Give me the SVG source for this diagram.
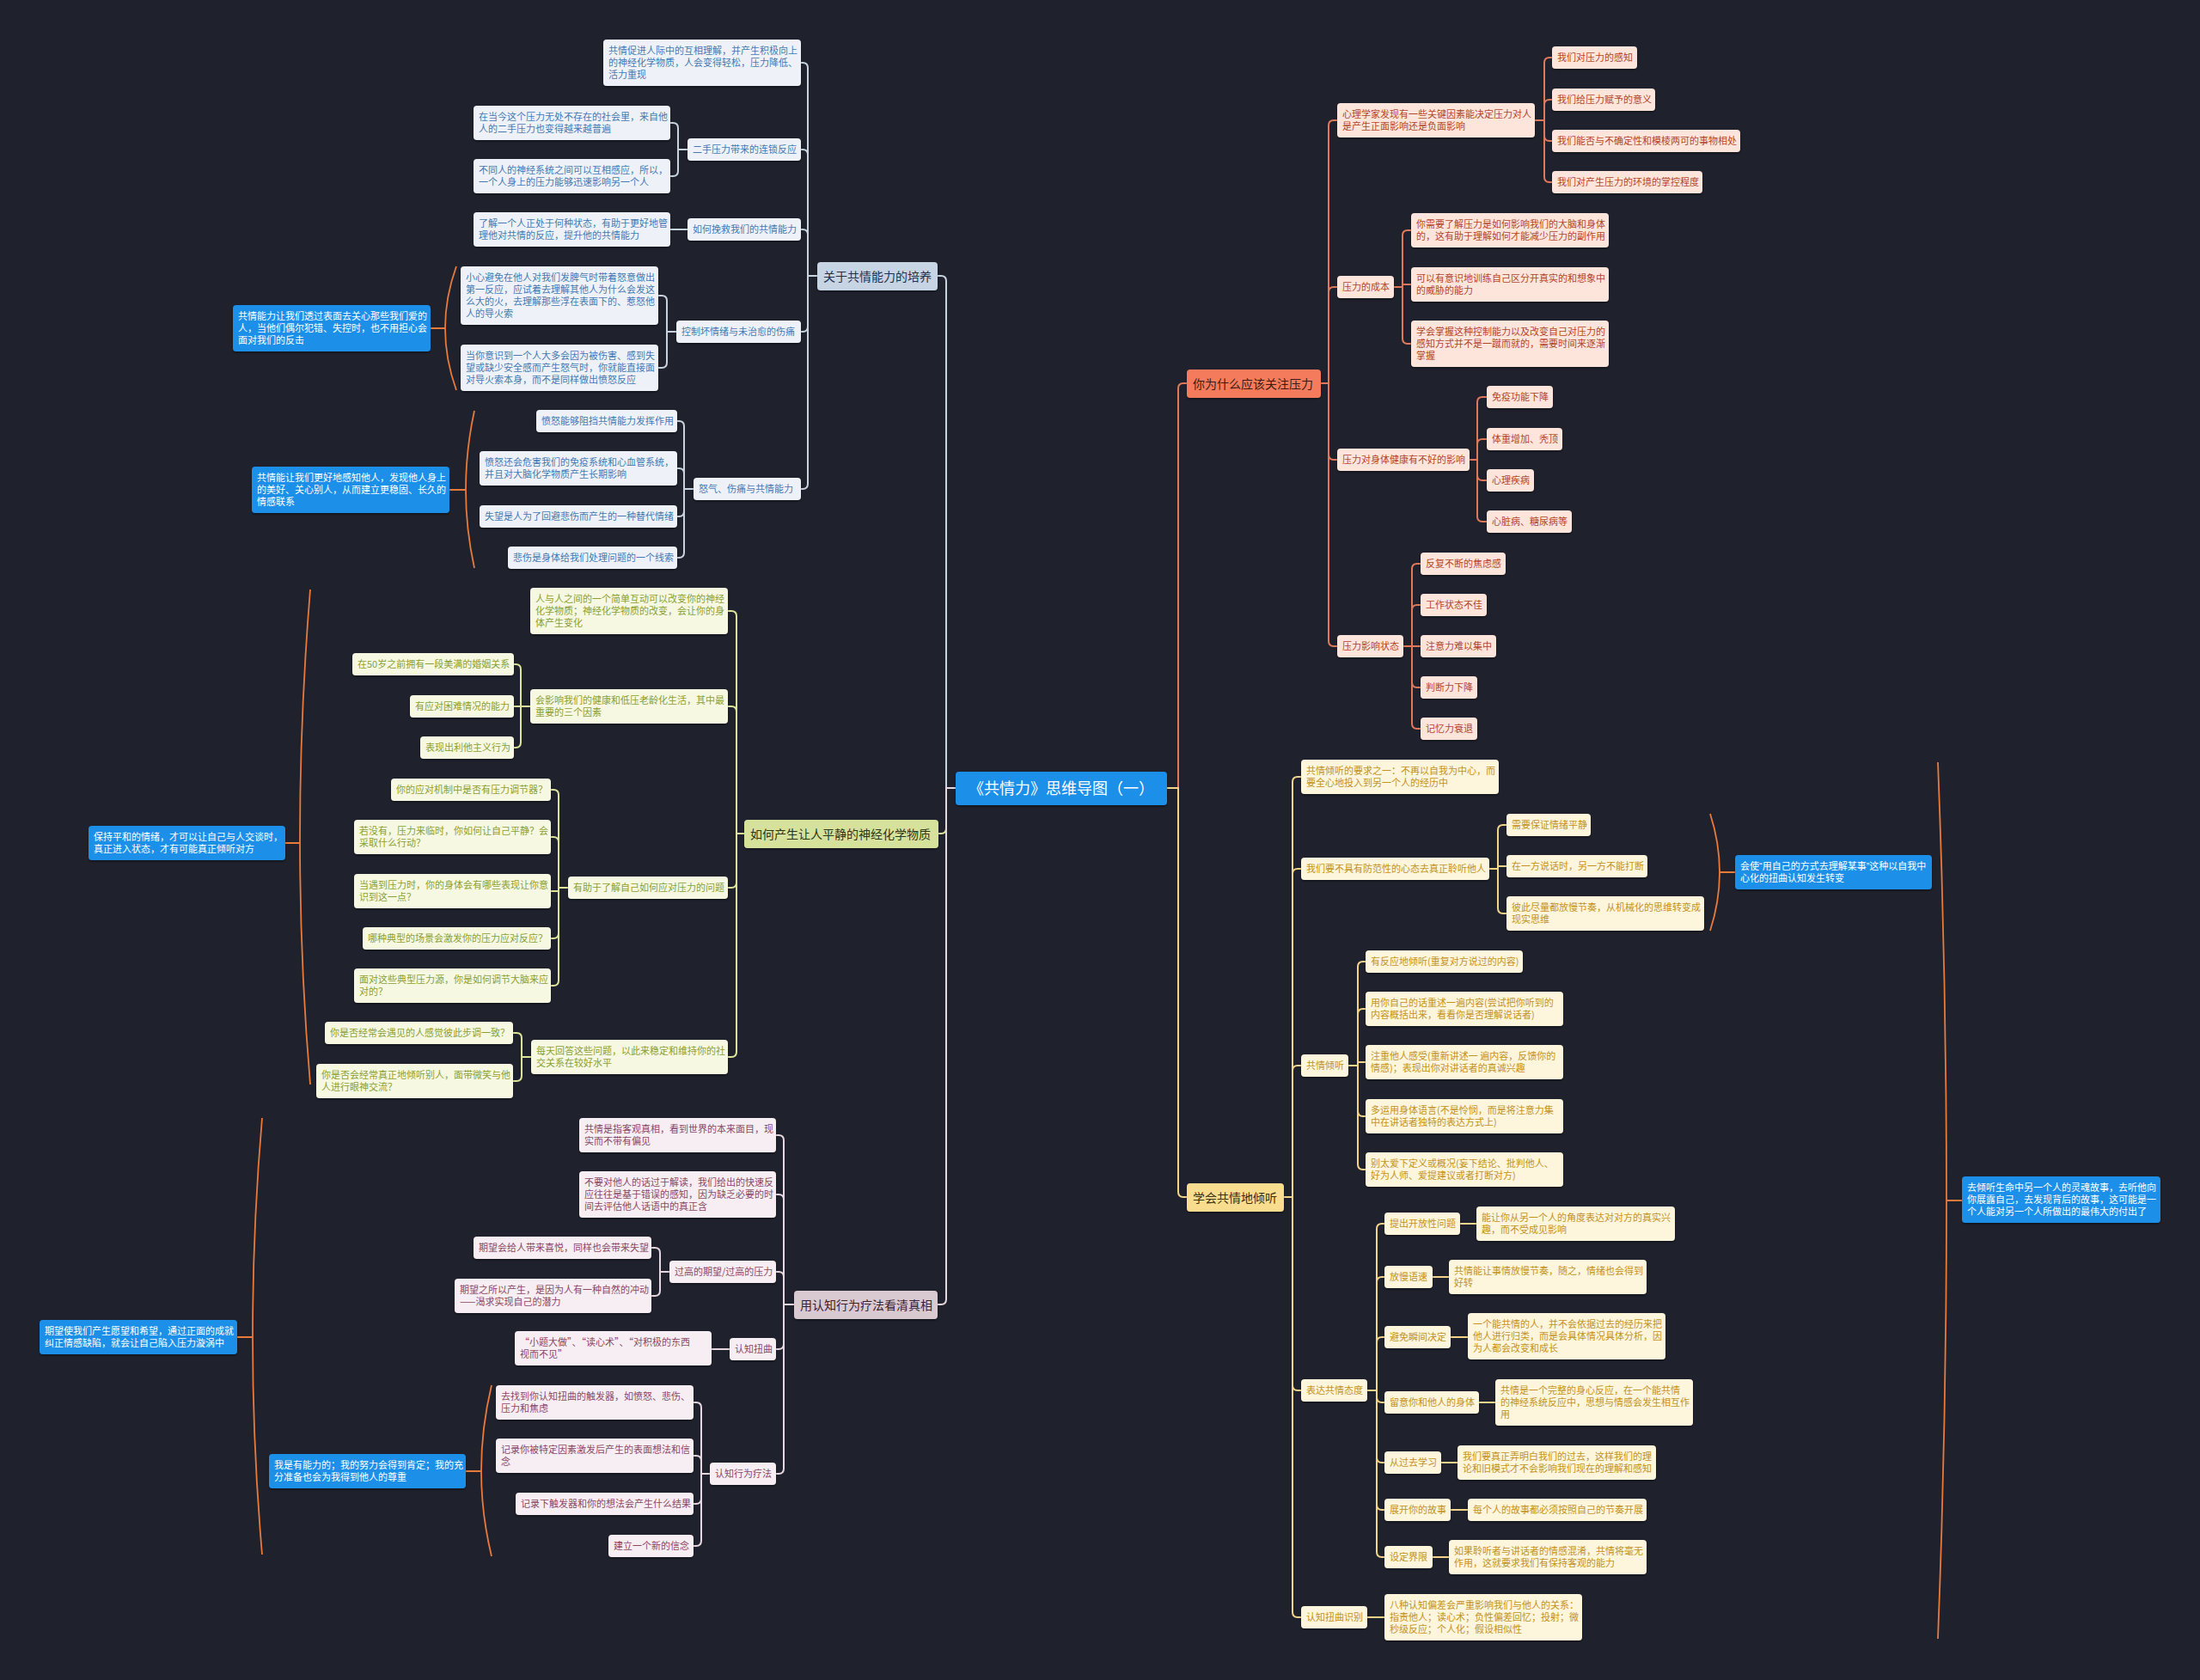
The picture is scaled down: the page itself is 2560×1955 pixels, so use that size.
<svg xmlns="http://www.w3.org/2000/svg" width="2560" height="1955" viewBox="0 0 2560 1955">
<defs>
<filter id="sh" x="-10%" y="-20%" width="120%" height="150%"><feDropShadow dx="0" dy="1.5" stdDeviation="1.2" flood-color="#000" flood-opacity="0.45"/></filter>
<style>
text{font-family:"Noto Sans CJK SC","Noto Sans","Liberation Sans",sans-serif;font-size:11px}
rect.n,g rect{rx:4px;filter:url(#sh)}
.q{font-family:"Liberation Sans",sans-serif}
.r rect{fill:#fde5db}.r text{fill:#b3452b}
.y rect{fill:#fdf5dc}.y text{fill:#c39322}
.g rect{fill:#eef2f8}.g text{fill:#4479b3}
.v rect{fill:#f6f8e2}.v text{fill:#8ba033}
.p rect{fill:#f6eef2}.p text{fill:#8b4866}
.s rect{fill:#1b8fe8}.s text{fill:#ffffff}
.m text{font-size:14px}
.mr rect{fill:#f47b5b}.mr text{fill:#3d1a10}
.my rect{fill:#f8dd8e}.my text{fill:#3a2e10}
.mg rect{fill:#c7d4e4}.mg text{fill:#22304a}
.mv rect{fill:#d6e29c}.mv text{fill:#2c3410}
.mp rect{fill:#d9c9d1}.mp text{fill:#3a2230}
.c rect{fill:#1b8fe8}.c text{fill:#fff;font-size:18px}
#connectors path{fill:none;stroke-width:2}
.cr{stroke:#e0795c}.cy{stroke:#f2d58a}.cg{stroke:#c9d3e0}.cv{stroke:#dde59a}.cp{stroke:#e6d6de}
#connectors .cb{stroke:#e87a3c;stroke-width:1.8}
</style>
</defs>
<rect x="0" y="0" width="2560" height="1955" fill="#1f222d"/>
<g id="connectors">
<path class="cr" d="M1358,917H1371V452Q1371,446 1377,446H1381"/>
<path class="cr" d="M1537,446H1546V146Q1546,140 1552,140H1556"/>
<path class="cr" d="M1537,446H1546V340Q1546,334 1552,334H1556"/>
<path class="cr" d="M1537,446H1546V529Q1546,535 1552,535H1556"/>
<path class="cr" d="M1537,446H1546V746Q1546,752 1552,752H1556"/>
<path class="cr" d="M1786,140H1797V73Q1797,67 1803,67H1806"/>
<path class="cr" d="M1786,140H1797V122Q1797,116 1803,116H1806"/>
<path class="cr" d="M1786,140H1797V158Q1797,164 1803,164H1806"/>
<path class="cr" d="M1786,140H1797V206Q1797,212 1803,212H1806"/>
<path class="cr" d="M1622,334H1632V274Q1632,268 1638,268H1642"/>
<path class="cr" d="M1622,334H1632V331H1642"/>
<path class="cr" d="M1622,334H1632V394Q1632,400 1638,400H1642"/>
<path class="cr" d="M1710,535H1719V468Q1719,462 1725,462H1730"/>
<path class="cr" d="M1710,535H1719V517Q1719,511 1725,511H1730"/>
<path class="cr" d="M1710,535H1719V553Q1719,559 1725,559H1730"/>
<path class="cr" d="M1710,535H1719V601Q1719,607 1725,607H1730"/>
<path class="cr" d="M1633,752H1643V662Q1643,656 1649,656H1653"/>
<path class="cr" d="M1633,752H1643V710Q1643,704 1649,704H1653"/>
<path class="cr" d="M1633,752H1653"/>
<path class="cr" d="M1633,752H1643V794Q1643,800 1649,800H1653"/>
<path class="cr" d="M1633,752H1643V842Q1643,848 1649,848H1653"/>
<path class="cy" d="M1358,917H1371V1387Q1371,1393 1377,1393H1381"/>
<path class="cy" d="M1494,1393H1504V910Q1504,904 1510,904H1514"/>
<path class="cy" d="M1494,1393H1504V1017Q1504,1011 1510,1011H1514"/>
<path class="cy" d="M1494,1393H1504V1246Q1504,1240 1510,1240H1514"/>
<path class="cy" d="M1494,1393H1504V1612Q1504,1618 1510,1618H1514"/>
<path class="cy" d="M1494,1393H1504V1876Q1504,1882 1510,1882H1514"/>
<path class="cy" d="M1733,1011H1743V966Q1743,960 1749,960H1753"/>
<path class="cy" d="M1733,1011H1743V1008H1753"/>
<path class="cy" d="M1733,1011H1743V1057Q1743,1063 1749,1063H1753"/>
<path class="cy" d="M1569,1240H1580V1125Q1580,1119 1586,1119H1589"/>
<path class="cy" d="M1569,1240H1580V1180Q1580,1174 1586,1174H1589"/>
<path class="cy" d="M1569,1240H1580V1236H1589"/>
<path class="cy" d="M1569,1240H1580V1293Q1580,1299 1586,1299H1589"/>
<path class="cy" d="M1569,1240H1580V1355Q1580,1361 1586,1361H1589"/>
<path class="cy" d="M1591,1618H1602V1430Q1602,1424 1608,1424H1611"/>
<path class="cy" d="M1591,1618H1602V1492Q1602,1486 1608,1486H1611"/>
<path class="cy" d="M1591,1618H1602V1562Q1602,1556 1608,1556H1611"/>
<path class="cy" d="M1591,1618H1602V1626Q1602,1632 1608,1632H1611"/>
<path class="cy" d="M1591,1618H1602V1696Q1602,1702 1608,1702H1611"/>
<path class="cy" d="M1591,1618H1602V1751Q1602,1757 1608,1757H1611"/>
<path class="cy" d="M1591,1618H1602V1806Q1602,1812 1608,1812H1611"/>
<path class="cy" d="M1699,1424H1718M1667,1486H1686M1688,1556H1708M1721,1632H1740M1677,1702H1696M1688,1757H1708M1667,1812H1686M1591,1882H1611"/>
<path class="cg" d="M1112,917H1101V327Q1101,321 1095,321H1091"/>
<path class="cg" d="M951,321H940V79Q940,73 934,73H932"/>
<path class="cg" d="M951,321H940V180Q940,174 934,174H932"/>
<path class="cg" d="M951,321H940V273Q940,267 934,267H932"/>
<path class="cg" d="M951,321H940V380Q940,386 934,386H932"/>
<path class="cg" d="M951,321H940V563Q940,569 934,569H932"/>
<path class="cg" d="M800,174H789V149Q789,143 783,143H780"/>
<path class="cg" d="M800,174H789V199Q789,205 783,205H780"/>
<path class="cg" d="M800,267H780"/>
<path class="cg" d="M787,386H776V350Q776,344 770,344H766"/>
<path class="cg" d="M787,386H776V422Q776,428 770,428H766"/>
<path class="cg" d="M807,569H796V496Q796,490 790,490H788"/>
<path class="cg" d="M807,569H796V551Q796,545 790,545H788"/>
<path class="cg" d="M807,569H796V595Q796,601 790,601H788"/>
<path class="cg" d="M807,569H796V643Q796,649 790,649H788"/>
<path class="cv" d="M1112,917H1101V964Q1101,970 1095,970H1092"/>
<path class="cv" d="M866,970H857V717Q857,711 851,711H847"/>
<path class="cv" d="M866,970H857V828Q857,822 851,822H847"/>
<path class="cv" d="M866,970H857V1027Q857,1033 851,1033H847"/>
<path class="cv" d="M866,970H857V1224Q857,1230 851,1230H847"/>
<path class="cv" d="M617,822H606V779Q606,773 600,773H598"/>
<path class="cv" d="M617,822H598"/>
<path class="cv" d="M617,822H606V864Q606,870 600,870H598"/>
<path class="cv" d="M661,1033H650V925Q650,919 644,919H641"/>
<path class="cv" d="M661,1033H650V980Q650,974 644,974H641"/>
<path class="cv" d="M661,1033H650V1037H641"/>
<path class="cv" d="M661,1033H650V1086Q650,1092 644,1092H641"/>
<path class="cv" d="M661,1033H650V1141Q650,1147 644,1147H641"/>
<path class="cv" d="M618,1230H607V1208Q607,1202 601,1202H597"/>
<path class="cv" d="M618,1230H607V1252Q607,1258 601,1258H597"/>
<path class="cp" d="M1112,917H1101V1512Q1101,1518 1095,1518H1091"/>
<path class="cp" d="M924,1518H912V1327Q912,1321 906,1321H903"/>
<path class="cp" d="M924,1518H912V1396Q912,1390 906,1390H903"/>
<path class="cp" d="M924,1518H912V1486Q912,1480 906,1480H903"/>
<path class="cp" d="M924,1518H912V1564Q912,1570 906,1570H903"/>
<path class="cp" d="M924,1518H912V1709Q912,1715 906,1715H903"/>
<path class="cp" d="M779,1480H768V1458Q768,1452 762,1452H758"/>
<path class="cp" d="M779,1480H768V1502Q768,1508 762,1508H758"/>
<path class="cp" d="M849,1570H828"/>
<path class="cp" d="M826,1715H816V1638Q816,1632 810,1632H807"/>
<path class="cp" d="M826,1715H816V1700Q816,1694 810,1694H807"/>
<path class="cp" d="M826,1715H816V1744Q816,1750 810,1750H807"/>
<path class="cp" d="M826,1715H816V1793Q816,1799 810,1799H807"/>
<path class="cb" d="M531,310Q505,382 531,454M501,382H518"/>
<path class="cb" d="M552,478Q532,570 552,661M523,570H542"/>
<path class="cb" d="M361,686Q337,979 361,1262M332,981H349"/>
<path class="cb" d="M572,1612Q548,1712 572,1811M542,1712H560"/>
<path class="cb" d="M305,1301Q283,1556 305,1809M276,1556H294"/>
<path class="cb" d="M1990,947Q2012,1015 1990,1083M2001,1015H2019"/>
<path class="cb" d="M2255,887Q2275,1397 2255,1907M2265,1397H2283"/>
</g>
<g id="center" class="c"><rect x="1112" y="898" width="246" height="39"/><text x="1235" y="924" text-anchor="middle">《共情力》思维导图（一）</text></g>
<g id="b1" class="m mr"><rect x="1381" y="430" width="156" height="33"/><text x="1388" y="452">你为什么应该关注压力</text></g>
<g id="r1" class="r"><rect x="1556" y="120" width="230" height="40"/><text x="1562" y="137">心理学家发现有一些关键因素能决定压力对人<tspan x="1562" dy="14">是产生正面影响还是负面影响</tspan></text></g>
<g id="r1a" class="r"><rect x="1806" y="54" width="99" height="26"/><text x="1812" y="71">我们对压力的感知</text></g>
<g id="r1b" class="r"><rect x="1806" y="103" width="120" height="26"/><text x="1812" y="120">我们给压力赋予的意义</text></g>
<g id="r1c" class="r"><rect x="1806" y="151" width="219" height="26"/><text x="1812" y="168">我们能否与不确定性和模棱两可的事物相处</text></g>
<g id="r1d" class="r"><rect x="1806" y="199" width="175" height="26"/><text x="1812" y="216">我们对产生压力的环境的掌控程度</text></g>
<g id="r2" class="r"><rect x="1556" y="321" width="66" height="26"/><text x="1562" y="338">压力的成本</text></g>
<g id="r2a" class="r"><rect x="1642" y="248" width="230" height="40"/><text x="1648" y="265">你需要了解压力是如何影响我们的大脑和身体<tspan x="1648" dy="14">的，这有助于理解如何才能减少压力的副作用</tspan></text></g>
<g id="r2b" class="r"><rect x="1642" y="311" width="230" height="40"/><text x="1648" y="328">可以有意识地训练自己区分开真实的和想象中<tspan x="1648" dy="14">的威胁的能力</tspan></text></g>
<g id="r2c" class="r"><rect x="1642" y="373" width="230" height="54"/><text x="1648" y="390">学会掌握这种控制能力以及改变自己对压力的<tspan x="1648" dy="14">感知方式并不是一蹴而就的，需要时间来逐渐</tspan><tspan x="1648" dy="14">掌握</tspan></text></g>
<g id="r3" class="r"><rect x="1556" y="522" width="154" height="26"/><text x="1562" y="539">压力对身体健康有不好的影响</text></g>
<g id="r3a" class="r"><rect x="1730" y="449" width="77" height="26"/><text x="1736" y="466">免疫功能下降</text></g>
<g id="r3b" class="r"><rect x="1730" y="498" width="88" height="26"/><text x="1736" y="515">体重增加、秃顶</text></g>
<g id="r3c" class="r"><rect x="1730" y="546" width="55" height="26"/><text x="1736" y="563">心理疾病</text></g>
<g id="r3d" class="r"><rect x="1730" y="594" width="99" height="26"/><text x="1736" y="611">心脏病、糖尿病等</text></g>
<g id="r4" class="r"><rect x="1556" y="739" width="77" height="26"/><text x="1562" y="756">压力影响状态</text></g>
<g id="r4a" class="r"><rect x="1653" y="643" width="99" height="26"/><text x="1659" y="660">反复不断的焦虑感</text></g>
<g id="r4b" class="r"><rect x="1653" y="691" width="77" height="26"/><text x="1659" y="708">工作状态不佳</text></g>
<g id="r4c" class="r"><rect x="1653" y="739" width="88" height="26"/><text x="1659" y="756">注意力难以集中</text></g>
<g id="r4d" class="r"><rect x="1653" y="787" width="66" height="26"/><text x="1659" y="804">判断力下降</text></g>
<g id="r4e" class="r"><rect x="1653" y="835" width="66" height="26"/><text x="1659" y="852">记忆力衰退</text></g>
<g id="b2" class="m my"><rect x="1381" y="1377" width="113" height="33"/><text x="1388" y="1399">学会共情地倾听</text></g>
<g id="y1" class="y"><rect x="1514" y="884" width="230" height="40"/><text x="1520" y="901">共情倾听的要求之一：不再以自我为中心，而<tspan x="1520" dy="14">要全心地投入到另一个人的经历中</tspan></text></g>
<g id="y2" class="y"><rect x="1514" y="998" width="219" height="26"/><text x="1520" y="1015">我们要不具有防范性的心态去真正聆听他人</text></g>
<g id="y2a" class="y"><rect x="1753" y="947" width="98" height="26"/><text x="1759" y="964">需要保证情绪平静</text></g>
<g id="y2b" class="y"><rect x="1753" y="995" width="164" height="26"/><text x="1759" y="1012">在一方说话时，另一方不能打断</text></g>
<g id="y2c" class="y"><rect x="1753" y="1043" width="230" height="40"/><text x="1759" y="1060">彼此尽量都放慢节奏，从机械化的思维转变成<tspan x="1759" dy="14">现实思维</tspan></text></g>
<g id="s_y2" class="s"><rect x="2019" y="995" width="229" height="40"/><text x="2025" y="1012">会使<tspan class="q">“</tspan>用自己的方式去理解某事<tspan class="q">”</tspan>这种以自我中<tspan x="2025" dy="14">心化的扭曲认知发生转变</tspan></text></g>
<g id="y3" class="y"><rect x="1514" y="1227" width="55" height="26"/><text x="1520" y="1244">共情倾听</text></g>
<g id="y3a" class="y"><rect x="1589" y="1106" width="183" height="26"/><text x="1595" y="1123">有反应地倾听(重复对方说过的内容)</text></g>
<g id="y3b" class="y"><rect x="1589" y="1154" width="230" height="40"/><text x="1595" y="1171">用你自己的话重述一遍内容(尝试把你听到的<tspan x="1595" dy="14">内容概括出来，看看你是否理解说话者)</tspan></text></g>
<g id="y3c" class="y"><rect x="1589" y="1216" width="230" height="40"/><text x="1595" y="1233">注重他人感受(重新讲述一 遍内容，反馈你的<tspan x="1595" dy="14">情感)；表现出你对讲话者的真诚兴趣</tspan></text></g>
<g id="y3d" class="y"><rect x="1589" y="1279" width="230" height="40"/><text x="1595" y="1296">多运用身体语言(不是怜悯，而是将注意力集<tspan x="1595" dy="14">中在讲话者独特的表达方式上)</tspan></text></g>
<g id="y3e" class="y"><rect x="1589" y="1341" width="230" height="40"/><text x="1595" y="1358">别太爱下定义或概况(妄下结论、批判他人、<tspan x="1595" dy="14">好为人师、爱提建议或者打断对方)</tspan></text></g>
<g id="y4" class="y"><rect x="1514" y="1605" width="77" height="26"/><text x="1520" y="1622">表达共情态度</text></g>
<g id="y4a" class="y"><rect x="1611" y="1411" width="88" height="26"/><text x="1617" y="1428">提出开放性问题</text></g>
<g id="y4a1" class="y"><rect x="1718" y="1404" width="231" height="40"/><text x="1724" y="1421">能让你从另一个人的角度表达对对方的真实兴<tspan x="1724" dy="14">趣，而不受成见影响</tspan></text></g>
<g id="y4b" class="y"><rect x="1611" y="1473" width="56" height="26"/><text x="1617" y="1490">放慢语速</text></g>
<g id="y4b1" class="y"><rect x="1686" y="1466" width="230" height="40"/><text x="1692" y="1483">共情能让事情放慢节奏，随之，情绪也会得到<tspan x="1692" dy="14">好转</tspan></text></g>
<g id="y4c" class="y"><rect x="1611" y="1543" width="77" height="26"/><text x="1617" y="1560">避免瞬间决定</text></g>
<g id="y4c1" class="y"><rect x="1708" y="1528" width="230" height="54"/><text x="1714" y="1545">一个能共情的人，并不会依据过去的经历来把<tspan x="1714" dy="14">他人进行归类，而是会具体情况具体分析，因</tspan><tspan x="1714" dy="14">为人都会改变和成长</tspan></text></g>
<g id="y4d" class="y"><rect x="1611" y="1619" width="110" height="26"/><text x="1617" y="1636">留意你和他人的身体</text></g>
<g id="y4d1" class="y"><rect x="1740" y="1605" width="230" height="54"/><text x="1746" y="1622">共情是一个完整的身心反应，在一个能共情<tspan x="1746" dy="14">的神经系统反应中，思想与情感会发生相互作</tspan><tspan x="1746" dy="14">用</tspan></text></g>
<g id="y4e" class="y"><rect x="1611" y="1689" width="66" height="26"/><text x="1617" y="1706">从过去学习</text></g>
<g id="y4e1" class="y"><rect x="1696" y="1682" width="231" height="40"/><text x="1702" y="1699">我们要真正弄明白我们的过去，这样我们的理<tspan x="1702" dy="14">论和旧模式才不会影响我们现在的理解和感知</tspan></text></g>
<g id="y4f" class="y"><rect x="1611" y="1744" width="77" height="26"/><text x="1617" y="1761">展开你的故事</text></g>
<g id="y4f1" class="y"><rect x="1708" y="1744" width="208" height="26"/><text x="1714" y="1761">每个人的故事都必须按照自己的节奏开展</text></g>
<g id="y4g" class="y"><rect x="1611" y="1799" width="56" height="26"/><text x="1617" y="1816">设定界限</text></g>
<g id="y4g1" class="y"><rect x="1686" y="1792" width="230" height="40"/><text x="1692" y="1809">如果聆听者与讲话者的情感混淆，共情将毫无<tspan x="1692" dy="14">作用，这就要求我们有保持客观的能力</tspan></text></g>
<g id="y5" class="y"><rect x="1514" y="1869" width="77" height="26"/><text x="1520" y="1886">认知扭曲识别</text></g>
<g id="y5a" class="y"><rect x="1611" y="1855" width="230" height="54"/><text x="1617" y="1872">八种认知偏差会严重影响我们与他人的关系：<tspan x="1617" dy="14">指责他人；读心术；负性偏差回忆；投射；微</tspan><tspan x="1617" dy="14">秒级反应；个人化；假设相似性</tspan></text></g>
<g id="s_far" class="s"><rect x="2283" y="1369" width="231" height="54"/><text x="2289" y="1386">去倾听生命中另一个人的灵魂故事，去听他向<tspan x="2289" dy="14">你展露自己，去发现背后的故事，这可能是一</tspan><tspan x="2289" dy="14">个人能对另一个人所做出的最伟大的付出了</tspan></text></g>
<g id="b3" class="m mg"><rect x="951" y="305" width="140" height="33"/><text x="958" y="327">关于共情能力的培养</text></g>
<g id="w1" class="g"><rect x="702" y="46" width="230" height="54"/><text x="708" y="63">共情促进人际中的互相理解，并产生积极向上<tspan x="708" dy="14">的神经化学物质，人会变得轻松，压力降低、</tspan><tspan x="708" dy="14">活力重现</tspan></text></g>
<g id="w2" class="g"><rect x="800" y="161" width="132" height="26"/><text x="806" y="178">二手压力带来的连锁反应</text></g>
<g id="w2a" class="g"><rect x="551" y="123" width="229" height="40"/><text x="557" y="140">在当今这个压力无处不存在的社会里，来自他<tspan x="557" dy="14">人的二手压力也变得越来越普遍</tspan></text></g>
<g id="w2b" class="g"><rect x="551" y="185" width="229" height="40"/><text x="557" y="202">不同人的神经系统之间可以互相感应，所以，<tspan x="557" dy="14">一个人身上的压力能够迅速影响另一个人</tspan></text></g>
<g id="w3" class="g"><rect x="800" y="254" width="132" height="26"/><text x="806" y="271">如何挽救我们的共情能力</text></g>
<g id="w3a" class="g"><rect x="551" y="247" width="229" height="40"/><text x="557" y="264">了解一个人正处于何种状态，有助于更好地管<tspan x="557" dy="14">理他对共情的反应，提升他的共情能力</tspan></text></g>
<g id="w4" class="g"><rect x="787" y="373" width="145" height="26"/><text x="793" y="390">控制坏情绪与未治愈的伤痛</text></g>
<g id="w4a" class="g"><rect x="536" y="310" width="230" height="68"/><text x="542" y="327">小心避免在他人对我们发脾气时带着怒意做出<tspan x="542" dy="14">第一反应，应试着去理解其他人为什么会发这</tspan><tspan x="542" dy="14">么大的火，去理解那些浮在表面下的、惹怒他</tspan><tspan x="542" dy="14">人的导火索</tspan></text></g>
<g id="w4b" class="g"><rect x="536" y="401" width="230" height="54"/><text x="542" y="418">当你意识到一个人大多会因为被伤害、感到失<tspan x="542" dy="14">望或缺少安全感而产生怒气时，你就能直接面</tspan><tspan x="542" dy="14">对导火索本身，而不是同样做出愤怒反应</tspan></text></g>
<g id="s_w4" class="s"><rect x="271" y="355" width="230" height="54"/><text x="277" y="372">共情能力让我们透过表面去关心那些我们爱的<tspan x="277" dy="14">人，当他们偶尔犯错、失控时，也不用担心会</tspan><tspan x="277" dy="14">面对我们的反击</tspan></text></g>
<g id="w5" class="g"><rect x="807" y="556" width="125" height="26"/><text x="813" y="573">怒气、伤痛与共情能力</text></g>
<g id="w5a" class="g"><rect x="624" y="477" width="164" height="26"/><text x="630" y="494">愤怒能够阻挡共情能力发挥作用</text></g>
<g id="w5b" class="g"><rect x="558" y="525" width="230" height="40"/><text x="564" y="542">愤怒还会危害我们的免疫系统和心血管系统，<tspan x="564" dy="14">并且对大脑化学物质产生长期影响</tspan></text></g>
<g id="w5c" class="g"><rect x="558" y="588" width="230" height="26"/><text x="564" y="605">失望是人为了回避悲伤而产生的一种替代情绪</text></g>
<g id="w5d" class="g"><rect x="591" y="636" width="197" height="26"/><text x="597" y="653">悲伤是身体给我们处理问题的一个线索</text></g>
<g id="s_w5" class="s"><rect x="293" y="543" width="230" height="54"/><text x="299" y="560">共情能让我们更好地感知他人，发现他人身上<tspan x="299" dy="14">的美好、关心别人，从而建立更稳固、长久的</tspan><tspan x="299" dy="14">情感联系</tspan></text></g>
<g id="b4" class="m mv"><rect x="866" y="954" width="226" height="33"/><text x="873" y="976">如何产生让人平静的神经化学物质</text></g>
<g id="v1" class="v"><rect x="617" y="684" width="230" height="54"/><text x="623" y="701">人与人之间的一个简单互动可以改变你的神经<tspan x="623" dy="14">化学物质；神经化学物质的改变，会让你的身</tspan><tspan x="623" dy="14">体产生变化</tspan></text></g>
<g id="v2" class="v"><rect x="617" y="802" width="230" height="40"/><text x="623" y="819">会影响我们的健康和低压老龄化生活，其中最<tspan x="623" dy="14">重要的三个因素</tspan></text></g>
<g id="v2a" class="v"><rect x="410" y="760" width="188" height="26"/><text x="416" y="777">在50岁之前拥有一段美满的婚姻关系</text></g>
<g id="v2b" class="v"><rect x="477" y="809" width="121" height="26"/><text x="483" y="826">有应对困难情况的能力</text></g>
<g id="v2c" class="v"><rect x="489" y="857" width="109" height="26"/><text x="495" y="874">表现出利他主义行为</text></g>
<g id="v3" class="v"><rect x="661" y="1020" width="186" height="26"/><text x="667" y="1037">有助于了解自己如何应对压力的问题</text></g>
<g id="v3a" class="v"><rect x="455" y="906" width="186" height="26"/><text x="461" y="923">你的应对机制中是否有压力调节器？</text></g>
<g id="v3b" class="v"><rect x="412" y="954" width="229" height="40"/><text x="418" y="971">若没有，压力来临时，你如何让自己平静？会<tspan x="418" dy="14">采取什么行动？</tspan></text></g>
<g id="v3c" class="v"><rect x="412" y="1017" width="229" height="40"/><text x="418" y="1034">当遇到压力时，你的身体会有哪些表现让你意<tspan x="418" dy="14">识到这一点？</tspan></text></g>
<g id="v3d" class="v"><rect x="422" y="1079" width="219" height="26"/><text x="428" y="1096">哪种典型的场景会激发你的压力应对反应？</text></g>
<g id="v3e" class="v"><rect x="412" y="1127" width="229" height="40"/><text x="418" y="1144">面对这些典型压力源，你是如何调节大脑来应<tspan x="418" dy="14">对的？</tspan></text></g>
<g id="v4" class="v"><rect x="618" y="1210" width="229" height="40"/><text x="624" y="1227">每天回答这些问题，以此来稳定和维持你的社<tspan x="624" dy="14">交关系在较好水平</tspan></text></g>
<g id="v4a" class="v"><rect x="378" y="1189" width="219" height="26"/><text x="384" y="1206">你是否经常会遇见的人感觉彼此步调一致？</text></g>
<g id="v4b" class="v"><rect x="368" y="1238" width="229" height="40"/><text x="374" y="1255">你是否会经常真正地倾听别人，面带微笑与他<tspan x="374" dy="14">人进行眼神交流？</tspan></text></g>
<g id="s_v" class="s"><rect x="103" y="961" width="229" height="40"/><text x="109" y="978">保持平和的情绪，才可以让自己与人交谈时，<tspan x="109" dy="14">真正进入状态，才有可能真正倾听对方</tspan></text></g>
<g id="b5" class="m mp"><rect x="924" y="1502" width="167" height="33"/><text x="931" y="1524">用认知行为疗法看清真相</text></g>
<g id="p1" class="p"><rect x="674" y="1301" width="229" height="40"/><text x="680" y="1318">共情是指客观真相，看到世界的本来面目，现<tspan x="680" dy="14">实而不带有偏见</tspan></text></g>
<g id="p2" class="p"><rect x="674" y="1363" width="229" height="54"/><text x="680" y="1380">不要对他人的话过于解读，我们给出的快速反<tspan x="680" dy="14">应往往是基于错误的感知，因为缺乏必要的时</tspan><tspan x="680" dy="14">间去评估他人话语中的真正含</tspan></text></g>
<g id="p3" class="p"><rect x="779" y="1467" width="124" height="26"/><text x="785" y="1484">过高的期望/过高的压力</text></g>
<g id="p3a" class="p"><rect x="551" y="1439" width="207" height="26"/><text x="557" y="1456">期望会给人带来喜悦，同样也会带来失望</text></g>
<g id="p3b" class="p"><rect x="529" y="1488" width="229" height="40"/><text x="535" y="1505">期望之所以产生，是因为人有一种自然的冲动<tspan x="535" dy="14">——渴求实现自己的潜力</tspan></text></g>
<g id="p4" class="p"><rect x="849" y="1557" width="54" height="26"/><text x="855" y="1574">认知扭曲</text></g>
<g id="p4a" class="p"><rect x="599" y="1549" width="229" height="40"/><text x="605" y="1566">“小题大做”、“读心术”、“对积极的东西<tspan x="605" dy="14">视而不见”</tspan></text></g>
<g id="p5" class="p"><rect x="826" y="1702" width="77" height="26"/><text x="832" y="1719">认知行为疗法</text></g>
<g id="p5a" class="p"><rect x="577" y="1612" width="230" height="40"/><text x="583" y="1629">去找到你认知扭曲的触发器，如愤怒、悲伤、<tspan x="583" dy="14">压力和焦虑</tspan></text></g>
<g id="p5b" class="p"><rect x="577" y="1674" width="230" height="40"/><text x="583" y="1691">记录你被特定因素激发后产生的表面想法和信<tspan x="583" dy="14">念</tspan></text></g>
<g id="p5c" class="p"><rect x="600" y="1737" width="207" height="26"/><text x="606" y="1754">记录下触发器和你的想法会产生什么结果</text></g>
<g id="p5d" class="p"><rect x="708" y="1786" width="99" height="26"/><text x="714" y="1803">建立一个新的信念</text></g>
<g id="s_p5" class="s"><rect x="313" y="1692" width="229" height="40"/><text x="319" y="1709">我是有能力的；我的努力会得到肯定；我的充<tspan x="319" dy="14">分准备也会为我得到他人的尊重</tspan></text></g>
<g id="s_big" class="s"><rect x="46" y="1536" width="230" height="40"/><text x="52" y="1553">期望使我们产生愿望和希望，通过正面的成就<tspan x="52" dy="14">纠正情感缺陷，就会让自己陷入压力漩涡中</tspan></text></g>
</svg>
